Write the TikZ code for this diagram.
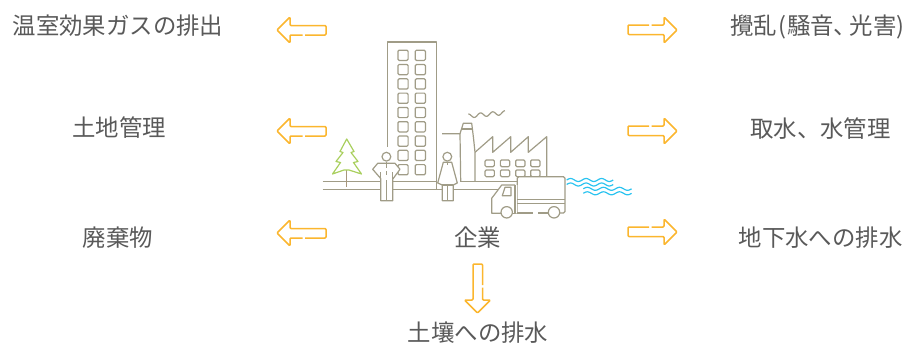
\documentclass[tikz,border=0pt]{standalone}
\usepackage{fontspec}
\setmainfont{Noto Sans CJK JP}
\usepackage{xcolor}
\usetikzlibrary{positioning}
\definecolor{nline}{HTML}{A09C87}
\definecolor{ntext}{HTML}{595959}
\definecolor{narrow}{HTML}{FBB62E}
\definecolor{ntree}{HTML}{A9CF5E}
\definecolor{ntrunk}{HTML}{A8977C}
\definecolor{nwater}{HTML}{2AC3F0}
\tikzset{
  lab/.style  = {font=\fontsize{23.4}{25}\selectfont, text=ntext, inner sep=0pt},
  ln/.style   = {draw=nline, line width=1.2pt, line join=round},
  tr/.style   = {draw=ntree, line width=1.2pt, line join=round},
  wt/.style   = {draw=nwater, line width=1.2pt},
  win/.style  = {ln, fill=white, rounded corners=1.2pt},
  % hollow arrow, tip at the pic origin, pointing left
  flow/.pic   = {
    \draw[draw=narrow, line width=1.5pt, rounded corners=1pt, line join=round]
      (25.5,5) -- (13,5) -- (13,13) -- (0,0) -- (13,-13) -- (13,-4.5)
      -- (49,-4.5) -- (49,5) -- (28,5);
  },
}

\begin{document}
\begin{tikzpicture}[x=1pt, y=-1pt]
\useasboundingbox (0,0) rectangle (916,343);

% labels
\node[lab] (ghg)   at (118,26)    {温室効果ガスの排出};
\node[lab] (land)  at (119,128)   {土地管理};
\node[lab] (waste) at (118,238)   {廃棄物};
\node[lab] (noise) at (817.5,27)  {\addfontfeature{RawFeature=+palt}攪乱\hspace{1pt}(\hspace{1pt}騒音、\hspace{4pt}光害)};
\node[lab] (water) at (820.5,129) {取水、水管理};
\node[lab] (drain) at (820.5,238) {地下水への排水};
\node[lab] (corp)  at (477.5,238) {企業};
\node[lab] (soil)  at (478,333)   {土壤への排水};

% arrows
\foreach \y in {30,131,233} { \pic at (277,\y) {flow}; }
\foreach \y in {30,131,232} { \pic[rotate=180] at (677,\y) {flow}; }
\pic[rotate=90] at (477.5,313) {flow};

% ground
\draw[ln] (322.7,181.7) -- (436.3,181.7);
\draw[ln] (322.7,189.3) -- (505,189.3);
\draw[ln] (460,181.7) -- (520,181.7);

% tower
\draw[ln] (387.3,146.7) -- (387.3,42) -- (436.3,42) -- (436.3,189.3);
\foreach \r in {0,...,8} {
  \foreach \cx in {403,420.3} {
    \node[win, minimum size=10.2pt, inner sep=0pt] (w\r) at (\cx,55.3+14.3*\r) {};
  }
}

% tree
\draw[draw=ntrunk, line width=1.3pt] (346.7,170) -- (346.7,187);
\draw[tr] (346.7,139) -- (354,151.5) -- (351,152.5) -- (358,161.5) -- (353.5,162.5) -- (361.5,174)
  -- (349,170) -- (344,170) -- (332.5,174) -- (340.5,162.5) -- (336,161.5) -- (343,152.5) -- (340,151.5) -- cycle;

% factory
\draw[ln] (442,133.7) -- (460,133.7) -- (460.7,181.7);
\draw[ln] (460,133.7) -- (463.3,123.3) -- (471.7,123.3) -- (473.5,138) -- (475,152.3) -- (475,181.7);
\draw[ln] (462.3,129) -- (472.7,129);
\draw[ln] (475,152.3) -- (492.7,136.7) -- (492.7,152.3) -- (510.7,136.7) -- (510.7,152.3)
  -- (528.3,136.7) -- (528.3,152.3) -- (546.7,136.7) -- (546.7,178);
\foreach \cx in {489.7,505,520.3,535.3} {
  \foreach \cy in {163.3,173.3} {
    \node[win, minimum width=9.3pt, minimum height=6.7pt, inner sep=0pt] (f\cy) at (\cx,\cy) {};
  }
}
\draw[ln, smooth] plot[domain=0:3, samples=40] ({468.3+\x*12.2},{116-1.1*\x-2*sin(\x*360+90)});

% man
\draw[ln, fill=white] (377.7,163.3) -- (395,163.3) -- (400,169.3) -- (393.2,178.5) -- (392.7,178.5)
  -- (392.7,200.7) -- (380.7,200.7) -- (380.7,178.5) -- (372.7,169.3) -- cycle;
\draw[ln, fill=white] (386.4,156.7) circle (4.4pt);
\draw[ln] (386.6,161.5) -- (386.6,168);
\draw[ln] (386.6,171) -- (386.6,175);
\draw[ln] (386.6,180) -- (386.6,200.7);
\draw[ln] (380.7,172) -- (380.7,178.5);
\draw[ln] (392.7,172) -- (392.7,178.5);

% woman
\draw[ln, fill=white] (443.3,162.3) -- (451.7,162.3) -- (457.3,183) -- (453.3,185)
  -- (453.3,200.7) -- (442.3,200.7) -- (442.3,185) -- (437.7,183) -- cycle;
\draw[ln] (442.3,185) -- (453.3,185);
\draw[ln] (447.8,185) -- (447.8,200.7);
\draw[ln] (447.5,161.5) -- (447.5,165);
\draw[ln, fill=white] (447.3,156.7) circle (4.4pt);

% truck
\draw[ln, fill=white] (515,213.3) -- (517.3,213.3) -- (517.3,178) [rounded corners=1.5pt] -- (517.3,176.7) -- (565,176.7)
  -- (565,213) -- (560,213);
\fill[white] (515,185) -- (501.7,185) -- (491.7,198.3) -- (491.7,213.3) -- (517.3,213.3) -- (517.3,185) -- cycle;
\draw[ln] (515,185) -- (501.7,185) -- (491.7,198.3) -- (491.7,213.3) -- (501,213.3);
\draw[ln] (515,185) -- (515,213.3) -- (512.3,213.3);
\draw[ln] (505,187.3) -- (511,187.3) -- (511,195.7) -- (502.3,195.7) -- cycle;
\draw[ln] (517.3,199.3) -- (565,199.3);
\draw[ln] (517.3,203.3) -- (565,203.3);
\draw[ln] (517.3,213) -- (533.3,213);
\draw[ln] (538.3,213) -- (548.3,213);
\draw[ln, fill=white] (506.7,212.3) circle (5.7pt);
\draw[ln, fill=white] (554,212.3) circle (5.7pt);

% water
\foreach \wx/\wy/\wl in {566.7/180/15.5, 566.7/184.5/15.5, 583.3/188.8/16.1, 583.3/193.3/16.1} {
  \draw[wt, smooth] plot[domain=0:3, samples=40] ({\wx+\x*\wl},{\wy-1.5*sin(\x*360)});
}

\end{tikzpicture}
\end{document}
